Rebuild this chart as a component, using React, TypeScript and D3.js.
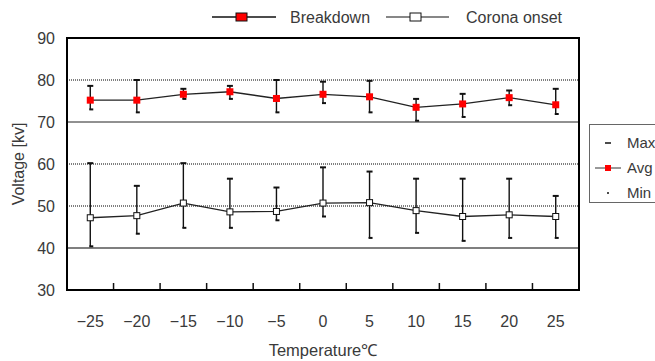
import * as d3 from "d3";

// temperature categories (°C)
const temps = [-25, -20, -15, -10, -5, 0, 5, 10, 15, 20, 25];

// breakdown voltage [kV]
const bdAvg = [75.2, 75.2, 76.6, 77.2, 75.6, 76.6, 76.0, 73.5, 74.3, 75.8, 74.1];
const bdMax = [78.6, 80.0, 77.9, 78.6, 80.0, 79.6, 79.8, 75.5, 76.7, 77.5, 77.9];
const bdMin = [73.0, 72.3, 75.5, 75.5, 72.3, 74.5, 72.3, 70.3, 71.2, 74.0, 71.9];

// corona onset voltage [kV]
const coAvg = [47.2, 47.7, 50.7, 48.6, 48.7, 50.7, 50.8, 48.9, 47.5, 47.9, 47.5];
const coMax = [60.2, 54.8, 60.2, 56.5, 54.4, 59.2, 58.2, 56.5, 56.5, 56.5, 52.4];
const coMin = [40.4, 43.4, 44.8, 44.8, 46.6, 47.5, 42.4, 43.6, 41.7, 42.4, 42.4];

const yTicks = [30, 40, 50, 60, 70, 80, 90];
const gridVals = [40, 50, 60, 70, 80];

const W = 655;
const H = 361;
const plot = { left: 67, right: 579, top: 38, bottom: 290 };
const font = "'Liberation Sans', Arial, sans-serif";
const txt = "#3a3a3a";

export default function App() {
    const x = d3.scaleBand<number>().domain(temps).range([plot.left, plot.right]).padding(0);
    const y = d3.scaleLinear().domain([30, 90]).range([plot.bottom, plot.top]);
    const cx = (t: number) => x(t)! + x.bandwidth() / 2;

    const line = d3.line<number>().x((_, i) => cx(temps[i])).y(v => y(v));

    const errBars = (max: number[], min: number[], key: string) =>
        temps.map((t, i) => {
            const px = cx(t);
            return (
                <g key={key + i} stroke="#111" strokeWidth={1.4}>
                    <line x1={px} x2={px} y1={y(max[i])} y2={y(min[i])} />
                    <line x1={px - 3} x2={px + 3} y1={y(max[i])} y2={y(max[i])} strokeWidth={2} />
                    <line x1={px - 1} x2={px + 3} y1={y(min[i])} y2={y(min[i])} strokeWidth={2} />
                </g>
            );
        });

    return (
        <svg width={W} height={H} style={{ position: "absolute", left: 0, top: 0, background: "#fff" }} fontFamily={font}>
            {/* grid */}
            {gridVals.map(v => (
                <line key={"g" + v} x1={plot.left} x2={plot.right} y1={y(v)} y2={y(v)}
                    stroke={v === 70 ? "#222" : "#555"} strokeWidth={v === 70 ? 1 : 1.5}
                    strokeDasharray={v === 70 || v === 40 ? undefined : "1,1"} />
            ))}

            {/* x ticks at category boundaries */}
            {temps.slice(1).map(t => (
                <line key={"xt" + t} x1={x(t)!} x2={x(t)!} y1={plot.bottom} y2={plot.bottom - 7} stroke="#111" strokeWidth={1.5} />
            ))}

            {/* frame */}
            <rect x={plot.left} y={plot.top} width={plot.right - plot.left} height={plot.bottom - plot.top}
                fill="none" stroke="#000" strokeWidth={2} />

            {/* y tick labels */}
            {yTicks.map(v => (
                <text key={"yl" + v} x={55} y={y(v)} dy="0.35em" textAnchor="end" fontSize={16} fill={txt}>{v}</text>
            ))}

            {/* x tick labels */}
            {temps.map(t => (
                <text key={"xl" + t} x={cx(t)} y={321} dy="0.35em" textAnchor="middle" fontSize={16} fill={txt}>
                    {t < 0 ? "\u2212" + Math.abs(t) : t}
                </text>
            ))}

            <text x={(plot.left + plot.right) / 2} y={350} dy="0.35em" textAnchor="middle" fontSize={16.5} fill={txt}>Temperature℃</text>
            <text transform={`translate(18,${(plot.top + plot.bottom) / 2}) rotate(-90)`} dy="0.35em" textAnchor="middle" fontSize={16} fill={txt}>Voltage [kv]</text>

            {/* error bars */}
            {errBars(bdMax, bdMin, "bd")}
            {errBars(coMax, coMin, "co")}

            {/* series lines */}
            <path d={line(bdAvg)!} fill="none" stroke="#222" strokeWidth={1.3} />
            <path d={line(coAvg)!} fill="none" stroke="#222" strokeWidth={1.3} />

            {/* markers */}
            {bdAvg.map((v, i) => (
                <rect key={"bm" + i} x={cx(temps[i]) - 3.5} y={y(v) - 3.5} width={7} height={7} fill="#ff0000" />
            ))}
            {coAvg.map((v, i) => (
                <rect key={"cm" + i} x={cx(temps[i]) - 3} y={y(v) - 3} width={6} height={6} fill="#fff" stroke="#111" strokeWidth={1} />
            ))}

            {/* top legend */}
            <line x1={212} x2={276} y1={17} y2={17} stroke="#111" strokeWidth={1.5} />
            <rect x={236} y={13} width={11} height={8} fill="#ff0000" stroke="#111" strokeWidth={1} />
            <text x={290} y={17} dy="0.35em" fontSize={16} fill={txt}>Breakdown</text>
            <line x1={386} x2={449} y1={17} y2={17} stroke="#111" strokeWidth={1.2} />
            <rect x={410} y={13} width={11} height={8} fill="#fff" stroke="#111" strokeWidth={1} />
            <text x={466} y={17} dy="0.35em" fontSize={16} fill={txt}>Corona onset</text>

            {/* right legend */}
            <rect x={589.5} y={124.5} width={80} height={78} fill="#fff" stroke="#666" strokeWidth={1} />
            <line x1={605} x2={611} y1={143} y2={143} stroke="#111" strokeWidth={1.5} />
            <text x={627} y={143} dy="0.35em" fontSize={15} fill={txt}>Max</text>
            <line x1={595} x2={621} y1={168} y2={168} stroke="#333" strokeWidth={1} />
            <rect x={605} y={165} width={6} height={6} fill="#ff0000" />
            <text x={627} y={168} dy="0.35em" fontSize={15} fill={txt}>Avg</text>
            <line x1={607} x2={609} y1={193} y2={193} stroke="#111" strokeWidth={1.5} />
            <text x={627} y={193} dy="0.35em" fontSize={15} fill={txt}>Min</text>
        </svg>
    );
}
